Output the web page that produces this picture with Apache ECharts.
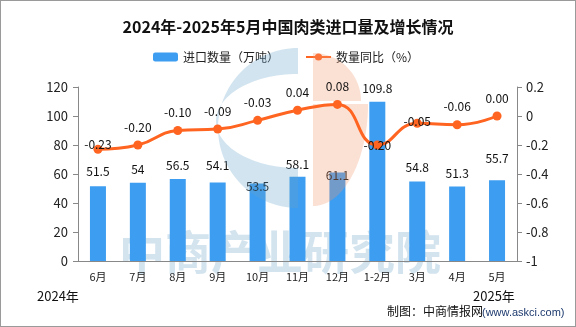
<!DOCTYPE html>
<html>
<head>
<meta charset="utf-8">
<script src="https://cdn.jsdelivr.net/npm/echarts@6/dist/echarts.min.js"></script>
<style>
  html, body { margin: 0; padding: 0; background: #fff; }
  #chart { width: 576px; height: 327px; box-sizing: border-box; border: 1px solid #9a9a9a; }
</style>
</head>
<body>
<div id="chart"></div>
<script>
// Monthly meat imports, June 2024 – May 2025
const categories = ['6月', '7月', '8月', '9月', '10月', '11月', '12月', '1-2月', '3月', '4月', '5月'];
const importVolume = [51.5, 54, 56.5, 54.1, 53.5, 58.1, 61.1, 109.8, 54.8, 51.3, 55.7];   // 万吨
const yoyChange = [-0.23, -0.20, -0.10, -0.09, -0.03, 0.04, 0.08, -0.20, -0.05, -0.06, 0.00]; // %
const leftTicks = { min: 0, max: 120, interval: 20 };
const rightTicks = { min: -1, max: 0.2, interval: 0.2 };

// per-label vertical nudges (px) so labels sit where the annotations were placed
const barLabelShift = [-3.5, -2.5, -2.5, -6, 14, -1.5, 14, -2.5, -3, -2.5, -10.5];
const lineLabelShift = [10.5, -2.5, -2.5, -2.5, -2.5, -2.5, -2.5, 15.5, 13.5, -2.5, -2.5];

const FONT = '"Noto Sans CJK SC", "Noto Sans", sans-serif';
const chart = echarts.init(document.getElementById('chart'), null, { renderer: 'canvas' });

const barData = importVolume.map((v, i) => ({
  value: v,
  label: { offset: [0, barLabelShift[i]] }
}));
const lineData = yoyChange.map((v, i) => ({
  value: v,
  label: { offset: [0, lineLabelShift[i]] }
}));

// elliptical arc as a list of points (angles in degrees, screen coords, 0 = right, 90 = down)
function arcPts(cx, cy, rx, ry, a0, a1, n) {
  const pts = [];
  for (let k = 0; k <= n; k++) {
    const a = (a0 + (a1 - a0) * k / n) * Math.PI / 180;
    pts.push([cx + rx * Math.cos(a), cy + ry * Math.sin(a)]);
  }
  return pts;
}
// logo: blue crescent (left) and two orange pieces (right)
const blueCrescent = arcPts(297, 127, 80, 80, 270, 90, 60)
  .concat(arcPts(297, 120, 82, 47, 90, 270, 60));
const orangeTop = [[312, 100]].concat(arcPts(312, 100, 48, 48, 270, 360, 30));
const orangeBottom = [[312, 103]].concat(arcPts(312, 103, 55, 102, 0, 90, 40));

const logoBlue = 'rgba(105,165,202,0.3)';
const logoOrange = 'rgba(242,152,112,0.3)';

chart.setOption({
  animation: false,
  textStyle: { fontFamily: FONT },
  title: {
    text: '2024年-2025年5月中国肉类进口量及增长情况',
    left: 'center',
    top: 13,
    textStyle: { fontSize: 16, fontWeight: 'bold', color: '#111', fontFamily: FONT }
  },
  legend: {
    left: 147,
    top: 45,
    itemGap: 26,
    itemWidth: 25,
    itemHeight: 9,
    textStyle: { fontSize: 12, color: '#222', fontFamily: FONT },
    data: ['进口数量（万吨）', '数量同比（%）']
  },
  grid: { left: 77, right: 58, top: 86, bottom: 65 },
  xAxis: {
    type: 'category',
    data: categories,
    axisLine: { lineStyle: { color: '#888' } },
    axisTick: { lineStyle: { color: '#888' }, length: 5 },
    axisLabel: { color: '#222', fontSize: 11, margin: 10, interval: 0 }
  },
  yAxis: [
    {
      type: 'value',
      min: leftTicks.min, max: leftTicks.max, interval: leftTicks.interval,
      axisLine: { show: true, lineStyle: { color: '#888' } },
      axisTick: { show: true, lineStyle: { color: '#888' }, length: 5 },
      axisLabel: { color: '#222', fontSize: 13, margin: 10 },
      splitLine: { show: false }
    },
    {
      type: 'value',
      min: rightTicks.min, max: rightTicks.max, interval: rightTicks.interval,
      axisLine: { show: true, lineStyle: { color: '#888' } },
      axisTick: { show: true, lineStyle: { color: '#888' }, length: 5 },
      axisLabel: {
        color: '#222', fontSize: 13, margin: 9,
        formatter: v => (Math.abs(v) < 1e-9 ? '0' : String(Math.round(v * 10) / 10))
      },
      splitLine: { show: false }
    }
  ],
  series: [
    {
      name: '进口数量（万吨）',
      type: 'bar',
      data: barData,
      barWidth: 16,
      z: 2,
      itemStyle: { color: '#3d9df0' },
      label: {
        show: true, position: 'top', distance: 5,
        color: '#111', fontSize: 12, fontFamily: FONT
      }
    },
    {
      name: '数量同比（%）',
      type: 'line',
      yAxisIndex: 1,
      data: lineData,
      smooth: true,
      z: 10,
      symbol: 'circle',
      symbolSize: 9,
      lineStyle: { color: '#ff6420', width: 3 },
      itemStyle: { color: '#ff6420' },
      label: {
        show: true, position: 'top', distance: 5,
        color: '#111', fontSize: 12, fontFamily: FONT,
        formatter: p => p.value.toFixed(2)
      }
    }
  ],
  graphic: [
    // brand watermark text, beneath the bars
    {
      type: 'text', left: 118, top: 228, z: 0, silent: true,
      style: {
        text: '中商产业研究院', fill: '#d3e4ef',
        font: 'bold 46px "Noto Sans CJK SC", sans-serif'
      }
    },
    {
      type: 'polygon', z: 5, silent: true,
      shape: { points: blueCrescent },
      style: { fill: logoBlue }
    },
    {
      type: 'polygon', z: 5, silent: true,
      shape: { points: orangeTop },
      style: { fill: logoOrange }
    },
    {
      type: 'polygon', z: 5, silent: true,
      shape: { points: orangeBottom },
      style: { fill: logoOrange }
    },
    // year markers and credit line
    {
      type: 'text', left: 36, top: 289, silent: true,
      style: { text: '2024年', fill: '#111', font: '13px "Noto Sans CJK SC", sans-serif' }
    },
    {
      type: 'text', left: 472, top: 289, silent: true,
      style: { text: '2025年', fill: '#111', font: '13px "Noto Sans CJK SC", sans-serif' }
    },
    {
      type: 'text', left: 386, top: 304, silent: true,
      style: { text: '制图：中商情报网', fill: '#111', font: '12px "Noto Sans CJK SC", sans-serif' }
    },
    {
      type: 'text', left: 481, top: 306, silent: true,
      style: { text: '(www.askci.com)', fill: '#1d3a6e', font: '11px "Liberation Sans", sans-serif' }
    }
  ]
});
</script>
</body>
</html>
